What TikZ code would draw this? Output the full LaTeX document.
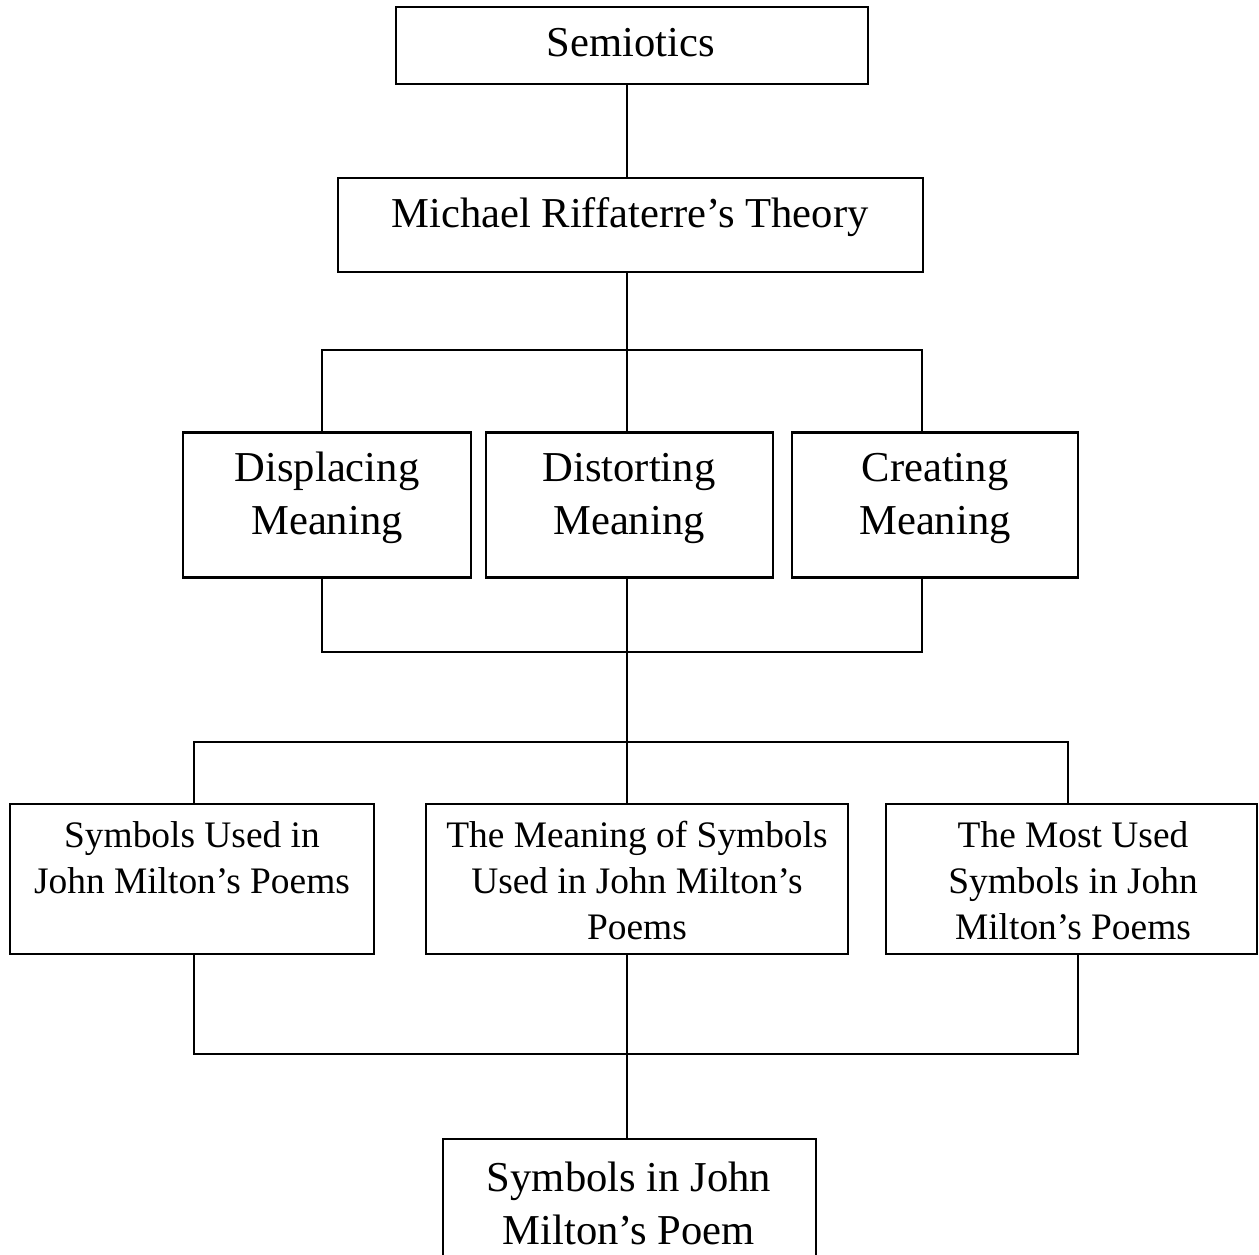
\documentclass[tikz,border=0pt]{standalone}
\usepackage{fontspec}
\setmainfont{Liberation Serif}
\begin{document}
\begin{tikzpicture}[x=1pt,y=-1pt,
  box/.style={draw, line width=2.3pt, inner sep=0pt},
  big/.style={font=\fontsize{42.6}{53}\selectfont, align=center, anchor=base, inner sep=0pt},
  small/.style={font=\fontsize{37.4}{46}\selectfont, align=center, anchor=base, inner sep=0pt},
  link/.style={line width=2.3pt}]
\useasboundingbox (0,0) rectangle (1259,1255);
\fill[white] (0,0) rectangle (1259,1255);
% boxes
\node[box, minimum width=472pt, minimum height=77pt] (sem) at (632,45.5) {};
\node[box, minimum width=585pt, minimum height=94pt] (mic) at (630.5,225) {};
\node[box, minimum width=288pt, minimum height=145pt] (dis) at (327,505) {};
\node[box, minimum width=287pt, minimum height=145pt] (dst) at (629.5,505) {};
\node[box, minimum width=286pt, minimum height=145pt] (cre) at (935,505) {};
\node[box, minimum width=364pt, minimum height=150pt] (sym) at (192,879) {};
\node[box, minimum width=422pt, minimum height=150pt] (mea) at (637,879) {};
\node[box, minimum width=371pt, minimum height=150pt] (mos) at (1071.5,879) {};
\node[box, minimum width=373pt, minimum height=124pt] (res) at (629.5,1201) {};
% texts (anchor=base is the baseline of the last line)
\node[big] (tsem) at (631,57) {Semiotics};
\node[big] (tmic) at (630,227) {Michael Riffaterre’s Theory};
\node[big] (tdis) at (327,534) {Displacing\\Meaning};
\node[big] (tdst) at (629,534) {Distorting\\Meaning};
\node[big] (tcre) at (935,534) {Creating\\Meaning};
\node[small] (tsym) at (192,893) {Symbols Used in\\John Milton’s Poems};
\node[small] (tmea) at (637,939) {The Meaning of Symbols\\Used in John Milton’s\\Poems};
\node[small] (tmos) at (1073,939) {The Most Used\\Symbols in John\\Milton’s Poems};
\node[big] (tres) at (629,1244) {Symbols in John\\Milton’s Poem};
% junctions and columns
\coordinate (j1) at (627,350);
\coordinate (j2) at (627,652);
\coordinate (j3) at (627,742);
\coordinate (j4) at (627,1054);
\coordinate (cA) at (322,0);
\coordinate (cB) at (922,0);
\coordinate (cC) at (194,0);
\coordinate (cD) at (1068,0);
\coordinate (cE) at (1078,0);
% connectors
\draw[link] (sem.south -| j1) -- (mic.north -| j1);
\draw[link] (mic.south -| j1) -- (j1);
\draw[link] (dis.north -| cA) |- (j1) -| (cre.north -| cB);
\draw[link] (j1) -- (dst.north -| j1);
\draw[link] (dis.south -| cA) |- (j2) -| (cre.south -| cB);
\draw[link] (dst.south -| j1) -- (j3);
\draw[link] (sym.north -| cC) |- (j3) -| (mos.north -| cD);
\draw[link] (j3) -- (mea.north -| j3);
\draw[link] (sym.south -| cC) |- (j4) -| (mos.south -| cE);
\draw[link] (mea.south -| j4) -- (res.north -| j4);
\end{tikzpicture}
\end{document}
